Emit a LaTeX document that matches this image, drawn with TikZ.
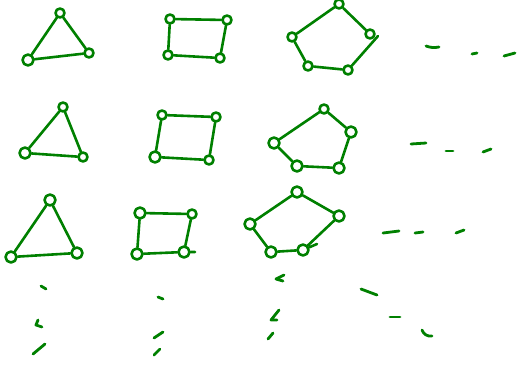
\documentclass[tikz,border=0pt]{standalone}
\begin{document}
\begin{tikzpicture}[x=1pt,y=-1pt,
  ink/.style={draw=green!50!black, line width=2.6pt, line cap=round, line join=round},
  vtx/.style={circle, ink, minimum size=9pt, inner sep=0pt},
  bigvtx/.style={vtx, minimum size=11pt},
  edge/.style={ink},
  dashmark/.style={ink, line width=2.8pt}]
\useasboundingbox (0,0) rectangle (518,365);
% ---- row 1 ----
\node[vtx] (t1a) at (60,13) {};
\node[bigvtx] (t1b) at (28,60) {};
\node[vtx] (t1c) at (89,53) {};
\draw[edge] (t1a) -- (t1c) (t1c) -- (t1b) (t1b) -- (t1a);
\node[vtx] (s1a) at (170,19) {};
\node[vtx] (s1b) at (227,20) {};
\node[vtx] (s1c) at (220,58) {};
\node[vtx] (s1d) at (168,55) {};
\draw[edge] (s1a) -- (s1b) (s1b) -- (s1c) (s1c) -- (s1d) (s1d) -- (s1a);
\node[vtx] (p1a) at (339,4) {};
\node[vtx] (p1b) at (370,34) {};
\node[vtx] (p1c) at (348,70) {};
\node[vtx] (p1d) at (308,66) {};
\node[vtx] (p1e) at (292,37) {};
\coordinate (p1x) at (378,36);
\draw[edge] (p1a) -- (p1b) (p1c) -- (p1x) (p1c) -- (p1d) (p1d) -- (p1e) (p1e) -- (p1a);
\draw[dashmark] (426,46) to[bend right=15] (439,47);
\draw[dashmark] (472,54) -- (477,53);
\draw[dashmark] (504,56) -- (515,53);
% ---- row 2 ----
\node[vtx] (t2a) at (63,107) {};
\node[bigvtx] (t2b) at (25,153) {};
\node[vtx] (t2c) at (83,157) {};
\draw[edge] (t2a) -- (t2c) (t2c) -- (t2b) (t2b) -- (t2a);
\node[vtx] (s2a) at (162,115) {};
\node[vtx] (s2b) at (216,117) {};
\node[vtx] (s2c) at (209,160) {};
\node[bigvtx] (s2d) at (155,157) {};
\draw[edge] (s2a) -- (s2b) (s2b) -- (s2c) (s2c) -- (s2d) (s2d) -- (s2a);
\node[vtx] (p2a) at (324,109) {};
\node[bigvtx] (p2b) at (351,132) {};
\node[bigvtx] (p2c) at (339,168) {};
\node[bigvtx] (p2d) at (297,166) {};
\node[bigvtx] (p2e) at (274,143) {};
\draw[edge] (p2a) -- (p2b) (p2b) -- (p2c) (p2c) -- (p2d) (p2d) -- (p2e) (p2e) -- (p2a);
\draw[dashmark] (411,144) -- (426,143);
\draw[dashmark] (446,151) -- (453,151);
\draw[dashmark] (483,152) -- (491,149);
% ---- row 3 ----
\node[bigvtx] (t3a) at (50,200) {};
\node[bigvtx] (t3b) at (11,257) {};
\node[bigvtx] (t3c) at (77,253) {};
\draw[edge] (t3a) -- (t3c) (t3c) -- (t3b) (t3b) -- (t3a);
\node[bigvtx] (s3a) at (140,213) {};
\node[vtx] (s3b) at (192,214) {};
\node[bigvtx] (s3c) at (184,252) {};
\node[bigvtx] (s3d) at (137,254) {};
\coordinate (s3x) at (195,252);
\draw[edge] (s3a) -- (s3b) (s3b) -- (s3c) (s3c) -- (s3x) (s3c) -- (s3d) (s3d) -- (s3a);
\node[bigvtx] (p3a) at (297,192) {};
\node[bigvtx] (p3b) at (339,216) {};
\node[bigvtx] (p3c) at (303,250) {};
\node[bigvtx] (p3d) at (271,252) {};
\node[bigvtx] (p3e) at (250,224) {};
\coordinate (p3x) at (317,244);
\draw[edge] (p3a) -- (p3b) (p3b) -- (p3c) (p3c) -- (p3x) (p3c) -- (p3d) (p3d) -- (p3e) (p3e) -- (p3a);
\draw[dashmark] (383,233) -- (399,231);
\draw[dashmark] (415,233) -- (423,232);
\draw[dashmark] (456,233) -- (464,230);
% ---- vertical / diagonal ellipses ----
\draw[dashmark] (41,286) -- (46,289);
\draw[dashmark] (38,320) -- (36,325) -- (42,327);
\draw[dashmark] (33,354) -- (45,344);
\draw[dashmark] (158,297) -- (163,299);
\draw[dashmark] (154,338) -- (163,332);
\draw[dashmark] (154,355) -- (160,349);
\draw[dashmark] (284,275) -- (276,279) -- (283,281);
\draw[dashmark] (279,310) -- (271,320) -- (277,320);
\draw[dashmark] (273,333) -- (268,339);
\draw[dashmark] (361,289) -- (377,295);
\draw[dashmark] (390,317) -- (400,317);
\draw[dashmark] (422,330) to[bend right=40] (432,336);
\end{tikzpicture}
\end{document}
